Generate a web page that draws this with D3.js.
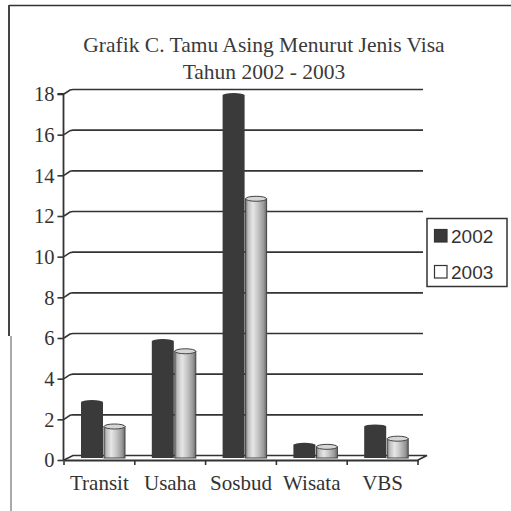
<!DOCTYPE html>
<html><head><meta charset="utf-8">
<script src="https://cdn.jsdelivr.net/npm/d3@7"></script>
<style>html,body{margin:0;padding:0;background:#fff;}svg{display:block;}</style>
</head><body>
<script>
const categories = ["Transit", "Usaha", "Sosbud", "Wisata", "VBS"];
const seriesNames = ["2002", "2003"];
const values2002 = [2.7, 5.7, 17.8, 0.6, 1.5];
const values2003 = [1.5, 5.2, 12.7, 0.5, 0.9];
const yTicks = [0, 2, 4, 6, 8, 10, 12, 14, 16, 18];
const titleLines = ["Grafik C. Tamu Asing Menurut Jenis Visa", "Tahun 2002 - 2003"];

const W = 511, H = 511;
const svg = d3.select("body").append("svg").attr("width", W).attr("height", H);
const defs = svg.append("defs");
const grad = defs.append("linearGradient").attr("id", "cyl").attr("x1", "0").attr("x2", "1").attr("y1", "0").attr("y2", "0");
[[0, "#7a7a7a"], [0.12, "#bdbdbd"], [0.35, "#e6e6e6"], [0.6, "#c4c4c4"], [0.85, "#9a9a9a"], [1, "#6a6a6a"]]
  .forEach(([o, c]) => grad.append("stop").attr("offset", o).attr("stop-color", c));

// frame
svg.append("line").attr("x1", 9).attr("x2", 511).attr("y1", 5.5).attr("y2", 5.5).attr("stroke", "#333").attr("stroke-width", 1.5);
svg.append("line").attr("x1", 9).attr("x2", 9).attr("y1", 5).attr("y2", 336).attr("stroke", "#444").attr("stroke-width", 2);
svg.append("line").attr("x1", 11).attr("x2", 11).attr("y1", 336).attr("y2", 511).attr("stroke", "#555").attr("stroke-width", 1);

// title
const serif = "'Liberation Serif','Times New Roman',serif";
svg.append("g").selectAll("text").data(titleLines).join("text")
  .attr("x", 264).attr("y", (d, i) => 52 + i * 26.5)
  .attr("text-anchor", "middle").attr("font-family", serif).attr("font-size", 21.5)
  .attr("fill", "#3a3a3a").text(d => d);

const x = d3.scaleBand().domain(categories).range([64, 418]).paddingInner(0).paddingOuter(0);
const y = d3.scaleLinear().domain([0, 18]).range([460, 94]);
const dx = 9, dy = 4.5; // depth offset

// gridlines (back wall)
const grid = svg.append("g");
yTicks.filter(t => t > 0).forEach(t => {
  grid.append("path")
    .attr("d", `M${64},${y(t)} L${64 + 6},${y(t) - dy + 0.5} L${64 + dx},${y(t) - dy} L${418 + dx - 4},${y(t) - dy}`)
    .attr("fill", "none").attr("stroke", "#333").attr("stroke-width", 1.6);
});
// floor
svg.append("path")
  .attr("d", `M${64},${y(0)} L${64 + dx},${y(0) - dy} L${418 + dx},${y(0) - dy} L${418},${y(0)}`)
  .attr("fill", "none").attr("stroke", "#333").attr("stroke-width", 1.6);

// bars
const barOff = 3;
const bars = svg.append("g");
categories.forEach((c, i) => {
  const b = x(c);
  const x0 = b + 17, w0 = 22;
  const t0 = y(values2002[i]) - barOff, base = y(0) - barOff + 1;
  bars.append("rect").attr("x", x0).attr("y", t0).attr("width", w0).attr("height", base - t0)
    .attr("fill", "#3a3a3a");
  bars.append("ellipse").attr("cx", x0 + w0 / 2).attr("cy", t0).attr("rx", w0 / 2).attr("ry", 2)
    .attr("fill", "#3a3a3a");
  const x1 = b + 40, w1 = 21;
  const t1 = y(values2003[i]) - barOff;
  bars.append("rect").attr("x", x1).attr("y", t1).attr("width", w1).attr("height", base - t1)
    .attr("fill", "url(#cyl)").attr("stroke", "#444").attr("stroke-width", 1);
  bars.append("ellipse").attr("cx", x1 + w1 / 2).attr("cy", t1).attr("rx", w1 / 2).attr("ry", 2.5)
    .attr("fill", "#d6d6d6").attr("stroke", "#444").attr("stroke-width", 1);
});

// y axis
const yAxis = d3.axisLeft(y).tickValues(yTicks).tickSize(6).tickPadding(3).tickFormat(d3.format("d"));
const ya = svg.append("g").attr("transform", "translate(63.5,0)").call(yAxis);
ya.select(".domain").attr("stroke", "#333").attr("stroke-width", 1.8).attr("d", `M-6,${y(18)}H0V${y(0)}`);
ya.selectAll(".tick line").attr("stroke", "#333").attr("stroke-width", 1.6);
ya.selectAll(".tick text").attr("font-family", serif).attr("font-size", 20.5).attr("fill", "#333").attr("dy", "0.34em");

// x axis
const xAxis = d3.axisBottom(x).tickSize(0).tickPadding(15);
const xa = svg.append("g").attr("transform", `translate(0,${y(0)})`).call(xAxis);
xa.select(".domain").attr("stroke", "#333").attr("stroke-width", 1.8);
xa.selectAll(".tick text").attr("font-family", serif).attr("font-size", 21).attr("fill", "#333").attr("dy", "0.71em");
const bounds = categories.map(c => x(c)).concat([x.range()[1]]);
svg.append("g").selectAll("line").data(bounds).join("line")
  .attr("x1", d => d).attr("x2", d => d).attr("y1", y(0)).attr("y2", y(0) + 5)
  .attr("stroke", "#333").attr("stroke-width", 1.6);

// legend
const lg = svg.append("g");
lg.append("rect").attr("x", 427).attr("y", 218.5).attr("width", 80).attr("height", 68)
  .attr("fill", "#fff").attr("stroke", "#333").attr("stroke-width", 1.5);
const sans = "'Liberation Sans',Arial,sans-serif";
seriesNames.forEach((s, i) => {
  const yy = 229 + i * 36;
  lg.append("rect").attr("x", 434.5).attr("y", yy + 0.5).attr("width", 12.5).attr("height", 12.5)
    .attr("fill", i === 0 ? "#3a3a3a" : "#fff").attr("stroke", "#333").attr("stroke-width", 1.2);
  lg.append("text").attr("x", 451).attr("y", yy + 14).attr("font-family", sans).attr("font-size", 19)
    .attr("fill", "#333").text(s);
});
</script>
</body></html>
